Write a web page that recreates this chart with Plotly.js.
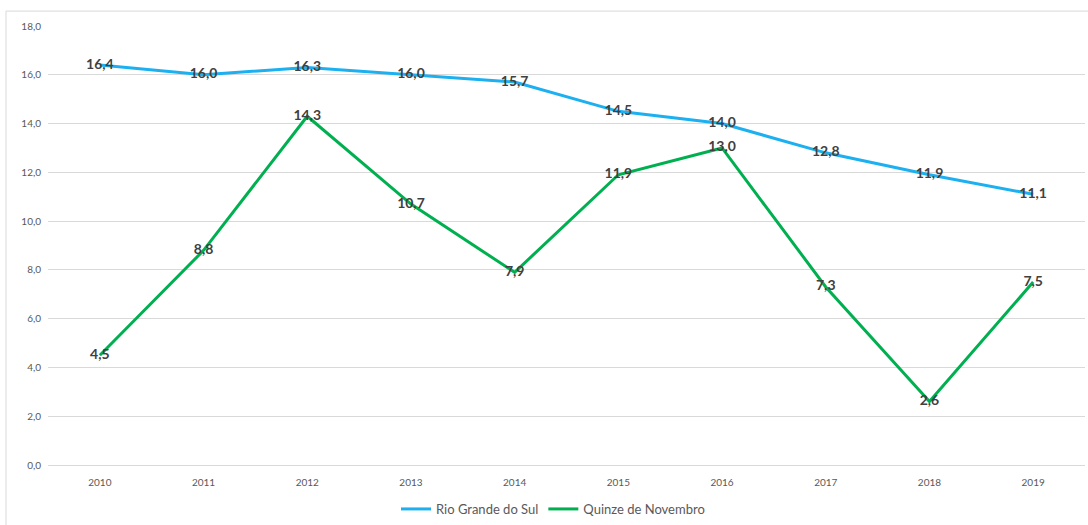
<!DOCTYPE html>
<html>
<head>
<meta charset="utf-8">
<script src="https://cdn.plot.ly/plotly-3.0.1.min.js"></script>
<style>html,body{margin:0;padding:0;background:#fff;}#chart{width:1088px;height:525px;}</style>
</head>
<body>
<div id="chart"></div>
<script>
const years = ['2010','2011','2012','2013','2014','2015','2016','2017','2018','2019'];
const rioGrandeDoSul = [16.4, 16.0, 16.3, 16.0, 15.7, 14.5, 14.0, 12.8, 11.9, 11.1];
const quinzeDeNovembro = [4.5, 8.8, 14.3, 10.7, 7.9, 11.9, 13.0, 7.3, 2.6, 7.5];
const seriesNames = ['Rio Grande do Sul', 'Quinze de Novembro'];

const fmt = v => v.toFixed(1).replace('.', ',');
const labelFont = {family: 'Lato, "Open Sans", sans-serif', size: 14, color: '#404040', weight: 'bold'};

const traces = [
  {x: years, y: rioGrandeDoSul, name: seriesNames[0], type: 'scatter', mode: 'lines+text',
   line: {color: '#1CB0F0', width: 3}, text: rioGrandeDoSul.map(fmt), textposition: 'middle center',
   textfont: labelFont, hoverinfo: 'skip', cliponaxis: false},
  {x: years, y: quinzeDeNovembro, name: seriesNames[1], type: 'scatter', mode: 'lines+text',
   line: {color: '#00B050', width: 3}, text: quinzeDeNovembro.map(fmt), textposition: 'middle center',
   textfont: labelFont, hoverinfo: 'skip', cliponaxis: false}
];

const layout = {
  width: 1088, height: 525,
  margin: {l: 48, r: 3, t: 26, b: 60, autoexpand: false},
  separators: ',.',
  paper_bgcolor: '#ffffff', plot_bgcolor: '#ffffff',
  font: {family: 'Lato, "Open Sans", sans-serif', color: '#595959'},
  showlegend: true,
  legend: {orientation: 'h', x: 0.487, xanchor: 'center', xref: 'paper', y: -0.066, yanchor: 'top',
           font: {size: 13, color: '#595959'}, itemwidth: 30, tracegroupgap: 0},
  xaxis: {type: 'category', showgrid: false, zeroline: false, showline: false, ticks: '',
          tickfont: {size: 10, color: '#595959'}, ticklabelstandoff: 10, fixedrange: true},
  yaxis: {range: [0, 18], dtick: 2, tick0: 0, tickformat: '.1f', showgrid: true, gridcolor: '#D9D9D9',
          gridwidth: 1, zeroline: true, zerolinecolor: '#D9D9D9', zerolinewidth: 1, showline: false,
          ticks: '', tickfont: {size: 10, color: '#595959'}, ticklabelstandoff: 6, fixedrange: true},
  shapes: [{type: 'rect', xref: 'paper', yref: 'paper', x0: -0.0405, x1: 1.2, y0: -0.2, y1: 1.034,
            line: {color: '#D9D9D9', width: 1}, fillcolor: 'rgba(0,0,0,0)', layer: 'below'}]
};

Plotly.newPlot('chart', traces, layout, {displayModeBar: false, staticPlot: true});
</script>
</body>
</html>
